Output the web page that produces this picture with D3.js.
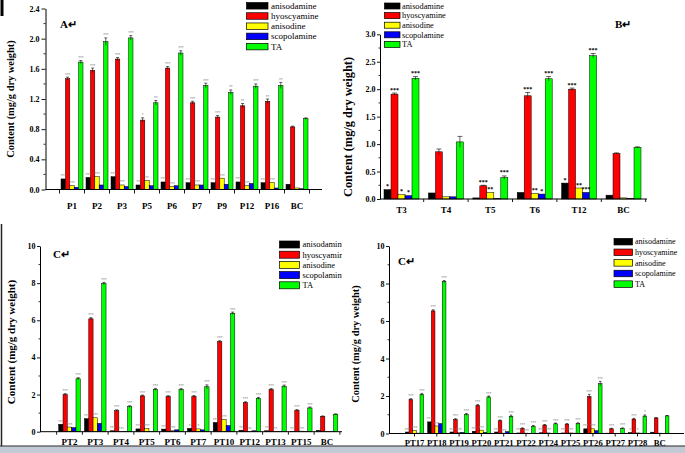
<!DOCTYPE html>
<html><head><meta charset="utf-8">
<script src="https://cdn.jsdelivr.net/npm/d3@7"></script>
<style>
body{margin:0;background:#fff;}
svg{display:block;}
text{font-family:"Liberation Serif","Times New Roman",serif;}
</style>
</head><body>
<svg id="chart" width="685" height="453"></svg>
<script>
// ---------- shared ----------
const seriesNames = ["anisodamine","hyoscyamine","anisodine","scopolamine","TA"];
const seriesColors = ["#000000","#ff0000","#ffff00","#0000ff","#00ff00"];

// ---------- Panel A ----------
const catsA = ["P1","P2","P3","P5","P6","P7","P9","P12","P16","BC"];
const anisodamineA = [0.14,0.16,0.17,0.06,0.10,0.09,0.09,0.10,0.09,0.07];
const hyoscyamineA = [1.47,1.58,1.73,0.92,1.61,1.15,0.96,1.11,1.17,0.83];
const anisodineA   = [0.05,0.17,0.06,0.12,0.04,0.06,0.15,0.05,0.09,0.02];
const scopolamineA = [0.03,0.06,0.04,0.05,0.05,0.06,0.07,0.08,0.02,0.01];
const taA          = [1.69,1.96,2.01,1.15,1.81,1.38,1.29,1.37,1.38,0.94];
const errHyoA = [0.02,0.03,0.02,0.03,0.02,0.02,0.02,0.03,0.03,0.01];
const errTaA  = [0.02,0.05,0.03,0.03,0.03,0.03,0.03,0.03,0.04,0.01];
const sigHyoA   = ["***","***","***","*","***","***","***","**","**",""];
const sigTaA    = ["***","***","***","**","***","***","**","***","**",""];
const sigMinorA = ["***","***","***","**","***","***","***","***","***",""];
const yTicksA = [0,0.4,0.8,1.2,1.6,2.0,2.4];

// ---------- Panel B ----------
const catsB = ["T3","T4","T5","T6","T12","BC"];
const anisodamineB = [0.17,0.11,0.02,0.12,0.29,0.07];
const hyoscyamineB = [1.91,0.86,0.24,1.88,2.00,0.83];
const anisodineB   = [0.08,0.04,0.12,0.10,0.20,0.02];
const scopolamineB = [0.06,0.04,0.01,0.09,0.12,0.01];
const taB          = [2.20,1.04,0.39,2.19,2.61,0.94];
const errHyoB = [0.02,0.05,0.01,0.06,0.02,0.01];
const errTaB  = [0.03,0.10,0.03,0.04,0.04,0.01];
const sigAnisodamineB = ["*","","","","*",""];
const sigHyoB         = ["***","","***","***","***",""];
const sigAnisodineB   = ["*","","**","**","**",""];
const sigScopolamineB = ["*","","","*","***",""];
const sigTaB          = ["***","","***","***","***",""];
const yTicksB = [0,0.5,1.0,1.5,2.0,2.5,3.0];

// ---------- Panel C ----------
const catsC = ["PT2","PT3","PT4","PT5","PT6","PT7","PT10","PT12","PT13","PT15","BC"];
const anisodamineC = [0.40,0.70,0.05,0.15,0.14,0.18,0.50,0.08,0.05,0.02,0.07];
const hyoscyamineC = [2.00,6.08,1.13,1.93,1.90,1.90,4.85,1.57,2.27,1.15,0.83];
const anisodineC   = [0.25,0.75,0.02,0.18,0.05,0.15,0.65,0.02,0.02,0.03,0.02];
const scopolamineC = [0.22,0.45,0.02,0.02,0.10,0.10,0.33,0.05,0.02,0.02,0.01];
const taC          = [2.85,7.98,1.35,2.28,2.27,2.42,6.38,1.80,2.45,1.28,0.94];
const errHyoC = [0.05,0.06,0.05,0.04,0.04,0.05,0.05,0.04,0.05,0.04,0.02];
const errTaC  = [0.06,0.06,0.05,0.05,0.05,0.10,0.06,0.05,0.06,0.05,0.02];
const sigHyoC   = ["***","***","***","***","***","***","***","***","***","***",""];
const sigTaC    = ["***","***","***","***","***","***","***","***","***","***",""];
const sigMinorC = ["***","***","***","***","***","*","***","**","**","***",""];
const yTicksC = [0,2,4,6,8,10];

// ---------- Panel D ----------
const catsD = ["PT17","PT18","PT19","PT20","PT21","PT22","PT24","PT25","PT26","PT27","PT28","BC"];
const anisodamineD = [0.08,0.62,0.08,0.12,0.08,0.03,0.04,0.03,0.25,0.02,0.05,0.07];
const hyoscyamineD = [1.81,6.54,0.75,1.50,0.68,0.27,0.45,0.50,1.97,0.25,0.77,0.83];
const anisodineD   = [0.15,0.40,0.05,0.18,0.02,0.02,0.03,0.03,0.25,0.01,0.03,0.02];
const scopolamineD = [0.02,0.53,0.06,0.06,0.10,0.01,0.01,0.02,0.15,0.01,0.02,0.01];
const taD          = [2.09,8.10,1.02,1.95,0.92,0.39,0.52,0.53,2.66,0.27,0.93,0.94];
const errHyoD = [0.05,0.06,0.04,0.05,0.04,0.03,0.03,0.03,0.12,0.03,0.04,0.02];
const errTaD  = [0.05,0.06,0.05,0.05,0.06,0.04,0.04,0.04,0.12,0.03,0.06,0.02];
const sigHyoD   = ["***","***","***","***","***","***","***","***","***","***","***",""];
const sigTaD    = ["***","***","***","***","***","***","***","***","***","***","*",""];
const sigMinorD = ["***","***","***","***","***","***","***","***","***","","*",""];
const yTicksD = [0,2,4,6,8,10];

const yTitle = "Content (mg/g dry weight)";

// ---------- drawing ----------
const svg = d3.select("#chart");
svg.append("rect").attr("width",685).attr("height",453).attr("fill","#fff");
const defs = svg.append("defs");

function drawPanel(p){
  const g = svg.append("g");
  if (p.clip){
    defs.append("clipPath").attr("id","clip"+p.id).append("rect")
      .attr("x",p.clip[0]).attr("y",p.clip[1]).attr("width",p.clip[2]).attr("height",p.clip[3]);
    g.attr("clip-path","url(#clip"+p.id+")");
  }
  const y = d3.scaleLinear().domain(p.yDomain).range([p.yBottom,p.yTop]);
  const bandStart = p.firstCenter - p.step/2;
  const x = d3.scaleBand().domain(p.cats).range([bandStart, bandStart + p.step*p.cats.length]).padding(0);
  const xs = d3.scaleBand().domain(seriesNames).range([-p.groupW/2, p.groupW/2]).padding(0);
  const cx = c => x(c) + x.bandwidth()/2;
  const bw = xs.bandwidth();

  // bars
  p.values.forEach((vals,si)=>{
    g.append("g").selectAll("rect").data(vals).join("rect")
      .attr("x",(d,i)=>cx(p.cats[i]) + xs(seriesNames[si]))
      .attr("y",d=>y(d))
      .attr("width",bw)
      .attr("height",d=>y(0)-y(d))
      .attr("fill",seriesColors[si])
      .attr("stroke","#000").attr("stroke-width",0.5);
  });
  // error bars
  p.values.forEach((vals,si)=>{
    const errs = p.errs[si];
    if(!errs) return;
    const eg = g.append("g").attr("stroke","#000").attr("stroke-width",0.6);
    vals.forEach((v,i)=>{
      const e = errs[i]; if(!e) return;
      const xc = cx(p.cats[i]) + xs(seriesNames[si]) + bw/2;
      eg.append("line").attr("x1",xc).attr("x2",xc).attr("y1",y(v-e)).attr("y2",y(v+e));
      eg.append("line").attr("x1",xc-bw*0.35).attr("x2",xc+bw*0.35).attr("y1",y(v+e)).attr("y2",y(v+e));
    });
  });
  // significance marks
  p.values.forEach((vals,si)=>{
    const sig = p.sigs[si]; if(!sig) return;
    const errs = p.errs[si] || [];
    g.append("g").selectAll("text").data(vals).join("text")
      .attr("x",(d,i)=>cx(p.cats[i]) + xs(seriesNames[si]) + bw/2)
      .attr("y",(d,i)=>y(d+(errs[i]||0)) - p.sigGap)
      .attr("text-anchor","middle")
      .attr("font-size",p.sigSize).attr("font-weight","bold")
      .attr("fill",p.sigColor)
      .text((d,i)=>sig[i]);
  });

  // y axis
  const yAxis = d3.axisLeft(y).tickValues(p.yTicks).tickFormat(d3.format(p.yFmt))
    .tickSize(p.tickLen).tickSizeOuter(0).tickPadding(p.yPad);
  const ya = g.append("g").attr("transform",`translate(${p.axisX0},0)`).call(yAxis);
  ya.select(".domain").attr("stroke","#000").attr("stroke-width",1);
  ya.selectAll(".tick line").attr("stroke","#000").attr("stroke-width",0.9);
  ya.selectAll("text").attr("font-size",p.yFont).attr("font-weight","bold").attr("fill","#000")
    .style("font-family",'"Liberation Serif","Times New Roman",serif');
  // minor y ticks
  g.append("g").selectAll("line").data(p.yMinor).join("line")
    .attr("x1",p.axisX0).attr("x2",p.axisX0-p.tickLen/2)
    .attr("y1",d=>y(d)).attr("y2",d=>y(d)).attr("stroke","#000").attr("stroke-width",0.8);

  // x axis
  const xAxis = d3.axisBottom(x).tickSize(0).tickPadding(p.xPad).tickSizeOuter(0);
  const xa = g.append("g").attr("transform",`translate(0,${p.yBottom})`).call(xAxis);
  xa.select(".domain").remove();
  xa.selectAll("text").attr("font-size",p.xFont).attr("font-weight","bold").attr("fill","#000")
    .style("font-family",'"Liberation Serif","Times New Roman",serif');
  g.append("line").attr("x1",p.axisX0).attr("x2",p.axisX1).attr("y1",p.yBottom).attr("y2",p.yBottom)
    .attr("stroke","#000").attr("stroke-width",1);
  const tickPos = p.xTickMode === "center"
    ? p.cats.map(cx)
    : p.cats.slice(1).map(c=>x(c)).concat([x(p.cats[0]), x(p.cats[p.cats.length-1])+x.bandwidth()]);
  g.append("g").selectAll("line").data(tickPos.filter(v=>v>p.axisX0 && v<p.axisX1)).join("line")
    .attr("x1",d=>d).attr("x2",d=>d).attr("y1",p.yBottom).attr("y2",p.yBottom+p.tickLen)
    .attr("stroke","#000").attr("stroke-width",0.9);

  // y title
  g.append("text").attr("transform",`translate(${p.titleX},${p.titleY}) rotate(-90)`)
    .attr("text-anchor","middle").attr("dominant-baseline","central")
    .attr("font-size",p.titleFont).attr("font-weight","bold").text(yTitle);

  // panel letter
  g.append("text").attr("x",p.letterX).attr("y",p.letterY)
    .attr("font-size",p.letterFont).attr("font-weight","bold").text(p.letter);

  // legend
  const lg = g.append("g");
  seriesNames.forEach((nm,i)=>{
    const yy = p.leg.y + i*p.leg.row;
    lg.append("rect").attr("x",p.leg.x).attr("y",yy-p.leg.h/2).attr("width",p.leg.w).attr("height",p.leg.h)
      .attr("fill",seriesColors[i]).attr("stroke","#000").attr("stroke-width",0.7);
    lg.append("text").attr("x",p.leg.x+p.leg.w+p.leg.gap).attr("y",yy).attr("dy","0.33em")
      .attr("font-size",p.leg.font).text(nm);
  });
}

drawPanel({
  id:"A", cats:catsA,
  values:[anisodamineA,hyoscyamineA,anisodineA,scopolamineA,taA],
  errs:[null,errHyoA,null,null,errTaA],
  sigs:[sigMinorA,sigHyoA,sigMinorA,null,sigTaA],
  sigSize:3.5, sigColor:"#888", sigGap:1.5,
  yDomain:[0,2.4], yBottom:189.5, yTop:8.5, yTicks:yTicksA,
  yMinor:[0.2,0.6,1.0,1.4,1.8,2.2], yFmt:".1f",
  firstCenter:72, step:25, groupW:22,
  axisX0:45.5, axisX1:322, tickLen:4, yPad:2, yFont:8, xFont:9, xPad:13, xTickMode:"boundary",
  titleX:10, titleY:99, titleFont:10.4,
  letter:"A\u21B5", letterX:60, letterY:28, letterFont:11,
  leg:{x:246.5, y:5.8, row:10.2, w:21.5, h:6.5, gap:3, font:9}
});

drawPanel({
  id:"B", cats:catsB,
  values:[anisodamineB,hyoscyamineB,anisodineB,scopolamineB,taB],
  errs:[null,errHyoB,null,null,errTaB],
  sigs:[sigAnisodamineB,sigHyoB,sigAnisodineB,sigScopolamineB,sigTaB],
  sigSize:6, sigColor:"#000", sigGap:1.5,
  yDomain:[0,3.0], yBottom:199, yTop:34.3, yTicks:yTicksB,
  yMinor:[0.25,0.75,1.25,1.75,2.25,2.75], yFmt:".1f",
  firstCenter:401.5, step:44.4, groupW:35,
  axisX0:380, axisX1:647, tickLen:3, yPad:1.5, yFont:8, xFont:9, xPad:8, xTickMode:"boundary",
  titleX:348, titleY:127, titleFont:12.4,
  letter:"B\u21B5", letterX:615, letterY:28, letterFont:11,
  leg:{x:384.5, y:6, row:9.6, w:15.5, h:6, gap:2, font:8.3}
});

drawPanel({
  id:"C", cats:catsC, clip:[0,222,342,231],
  values:[anisodamineC,hyoscyamineC,anisodineC,scopolamineC,taC],
  errs:[null,errHyoC,null,null,errTaC],
  sigs:[sigMinorC,sigHyoC,sigMinorC,null,sigTaC],
  sigSize:3.5, sigColor:"#888", sigGap:1.5,
  yDomain:[0,10], yBottom:431.7, yTop:246, yTicks:yTicksC,
  yMinor:[1,3,5,7,9], yFmt:"d",
  firstCenter:69.5, step:25.75, groupW:21.6,
  axisX0:40, axisX1:345, tickLen:3, yPad:1.5, yFont:8, xFont:9, xPad:6.5, xTickMode:"boundary",
  titleX:11, titleY:342, titleFont:11,
  letter:"C\u21B5", letterX:53, letterY:258, letterFont:11,
  leg:{x:279.5, y:244.5, row:10.2, w:20, h:7, gap:3, font:8.5}
});

drawPanel({
  id:"D", cats:catsD,
  values:[anisodamineD,hyoscyamineD,anisodineD,scopolamineD,taD],
  errs:[null,errHyoD,null,null,errTaD],
  sigs:[sigMinorD,sigHyoD,sigMinorD,null,sigTaD],
  sigSize:3.5, sigColor:"#888", sigGap:1.5,
  yDomain:[0,10], yBottom:433.5, yTop:246, yTicks:yTicksD,
  yMinor:[1,3,5,7,9], yFmt:"d",
  firstCenter:414.5, step:22.3, groupW:18.3,
  axisX0:389, axisX1:684, tickLen:3, yPad:1.5, yFont:8, xFont:8.6, xPad:6, xTickMode:"center",
  titleX:355, titleY:344, titleFont:10.4,
  letter:"C\u21B5", letterX:398, letterY:265, letterFont:11,
  leg:{x:614, y:241.7, row:10.6, w:18.5, h:6.5, gap:2.5, font:8}
});

// frame decorations (screenshot borders)
svg.append("rect").attr("x",0.5).attr("y",0).attr("width",3).attr("height",16).attr("fill","#000");
svg.append("line").attr("x1",1.5).attr("x2",1.5).attr("y1",224).attr("y2",447).attr("stroke","#222").attr("stroke-width",1.5);
svg.append("rect").attr("x",0).attr("y",446).attr("width",685).attr("height",7).attr("fill","#c3cad6");
svg.append("line").attr("x1",0).attr("x2",685).attr("y1",446).attr("y2",446).attr("stroke","#2a2a2a").attr("stroke-width",1.2);
</script>
</body></html>
